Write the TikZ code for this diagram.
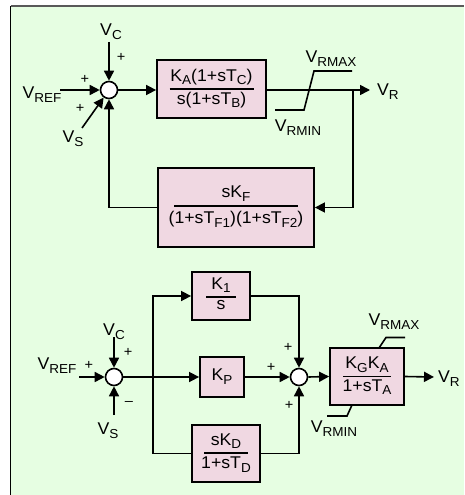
\documentclass[tikz,border=0pt]{standalone}
\usepackage{fontspec}
\setmainfont[FakeStretch=1.04]{Liberation Sans}
\usetikzlibrary{arrows.meta}
\definecolor{bgreen}{RGB}{230,254,226}
\definecolor{boxfill}{RGB}{240,216,226}
\newcommand\lo[1]{\raisebox{-0.22em}{\fontsize{13}{13}\selectfont #1}}
\newcommand\frcx[5]{\vbox{\offinterlineskip\halign{\hfil##\hfil\cr\strut #4\cr\noalign{\kern#2}\rule{#1}{1.5pt}\cr\noalign{\kern#3}\strut #5\cr}}}
\begin{document}
\begin{tikzpicture}[x=1pt,y=-1pt,font=\fontsize{17}{17}\selectfont,
  ln/.style={line width=1.6pt},
  arr/.style={ln,-{Triangle[length=10pt,width=10pt]}},
  blk/.style={draw,line width=1.8pt,fill=boxfill,inner sep=0pt},
  sumnode/.style={circle,draw,line width=1.6pt,fill=white,minimum size=17pt,inner sep=0pt},
  lbl/.style={inner sep=0pt},
  sgn/.style={inner sep=0pt,font=\fontsize{14}{14}\selectfont}]
\useasboundingbox (0,0) rectangle (464,495);
\fill[white] (0,0) rectangle (464,495);
\fill[bgreen] (10.5,6.5) rectangle (464,495);
\draw[line width=2pt,black!65] (10.5,6.5) -- (464,6.5);
\draw[line width=1.8pt,black] (10.5,6.5) -- (10.5,495);

% ---------- upper diagram ----------
\node[sumnode] (s1) at (109,90) {};
\node[blk,minimum width=109pt,minimum height=58pt] (A) at (211.5,89)
  {\frcx{84pt}{2pt}{2pt}{K\lo{A}(1+sT\lo{C})}{s(1+sT\lo{B})}};
\node[blk,minimum width=156pt,minimum height=79pt] (F) at (236,207.5)
  {\frcx{124pt}{2pt}{5pt}{sK\lo{F}}{(1+sT\lo{F1})(1+sT\lo{F2})}};
\coordinate (vc1) at (109,42);
\coordinate (vref1) at (60,90);
\coordinate (vs1) at (82,128);
\coordinate (vr1) at (370,90);
\coordinate (fb1) at (353,90);
\draw[arr] (vc1) -- (s1.north);
\draw[arr] (vref1) -- (s1.west);
\draw[arr] (vs1) -- (s1);
\draw[arr] (s1.east) -- (s1.east -| A.west);
\draw[arr] (A.east |- s1) -- (vr1);
\draw[arr] (fb1) |- (F.east);
\draw[arr] (F.west) -| (s1.south);
\draw[ln] (275,110) -- (304,110) -- (314,71) -- (352,71);
\node[lbl] (lvc1) at (111,32) {V\lo{C}};
\node[lbl] (lvref1) at (42,95) {V\lo{REF}};
\node[lbl] (lvs1) at (73,139) {V\lo{S}};
\node[lbl,anchor=west] (lvr1) at (377,92) {V\lo{R}};
\node[lbl] (lmax1) at (331,59) {V\lo{RMAX}};
\node[lbl] (lmin1) at (298,128) {V\lo{RMIN}};
\node[sgn] (p1) at (121,57) {+};
\node[sgn] (p2) at (85,79) {+};
\node[sgn] (p3) at (80,108) {+};

% ---------- lower diagram ----------
\node[sumnode] (s2) at (114,377) {};
\node[sumnode] (s3) at (299,377) {};
\node[blk,minimum width=58pt,minimum height=48pt] (K1) at (221,296)
  {\frcx{30pt}{2pt}{0pt}{K\lo{1}}{s}};
\node[blk,minimum width=44pt,minimum height=40pt] (KP) at (222,377) {K\lo{P}};
\node[blk,minimum width=68pt,minimum height=57pt] (KD) at (226,453.5)
  {\frcx{44pt}{2pt}{3pt}{sK\lo{D}}{1+sT\lo{D}}};
\node[blk,minimum width=74pt,minimum height=57pt] (G) at (367,376.5)
  {\frcx{48pt}{2pt}{2pt}{K\lo{G}K\lo{A}}{1+sT\lo{A}}};
\coordinate (vc2) at (114,337);
\coordinate (vref2) at (79,377);
\coordinate (vs2) at (114,415);
\coordinate (br) at (153,377);
\coordinate (vr2) at (434,377);
\draw[arr] (vc2) -- (s2.north);
\draw[arr] (vref2) -- (s2.west);
\draw[arr] (vs2) -- (s2.south);
\draw[arr] (s2.east) -- (KP.west);
\draw[arr] (br) |- (K1.west);
\draw[ln] (br) |- (KD.west);
\draw[arr] (K1.east) -| (s3.north);
\draw[arr] (KP.east) -- (s3.west);
\draw[arr] (KD.east) -| (s3.south);
\draw[arr] (s3.east) -- (G.west);
\draw[arr] (G.east) -- (vr2);
\draw[ln] (379,348) -- (386,337.5) -- (405,337.5);
\draw[ln] (352,405) -- (347,416) -- (327,416);
\node[lbl] (lvc2) at (114,332) {V\lo{C}};
\node[lbl] (lvref2) at (57,366) {V\lo{REF}};
\node[lbl] (lvs2) at (108,431) {V\lo{S}};
\node[lbl,anchor=west] (lvr2) at (438,379) {V\lo{R}};
\node[lbl] (lmax2) at (394,322) {V\lo{RMAX}};
\node[lbl] (lmin2) at (334,429) {V\lo{RMIN}};
\node[sgn] (q1) at (128,352) {+};
\node[sgn] (q2) at (89,365) {+};
\node[sgn] (q3) at (129,403) {--};
\node[sgn] (q4) at (288,347) {+};
\node[sgn] (q5) at (271,367) {+};
\node[sgn] (q6) at (289,405) {+};
\end{tikzpicture}
\end{document}
